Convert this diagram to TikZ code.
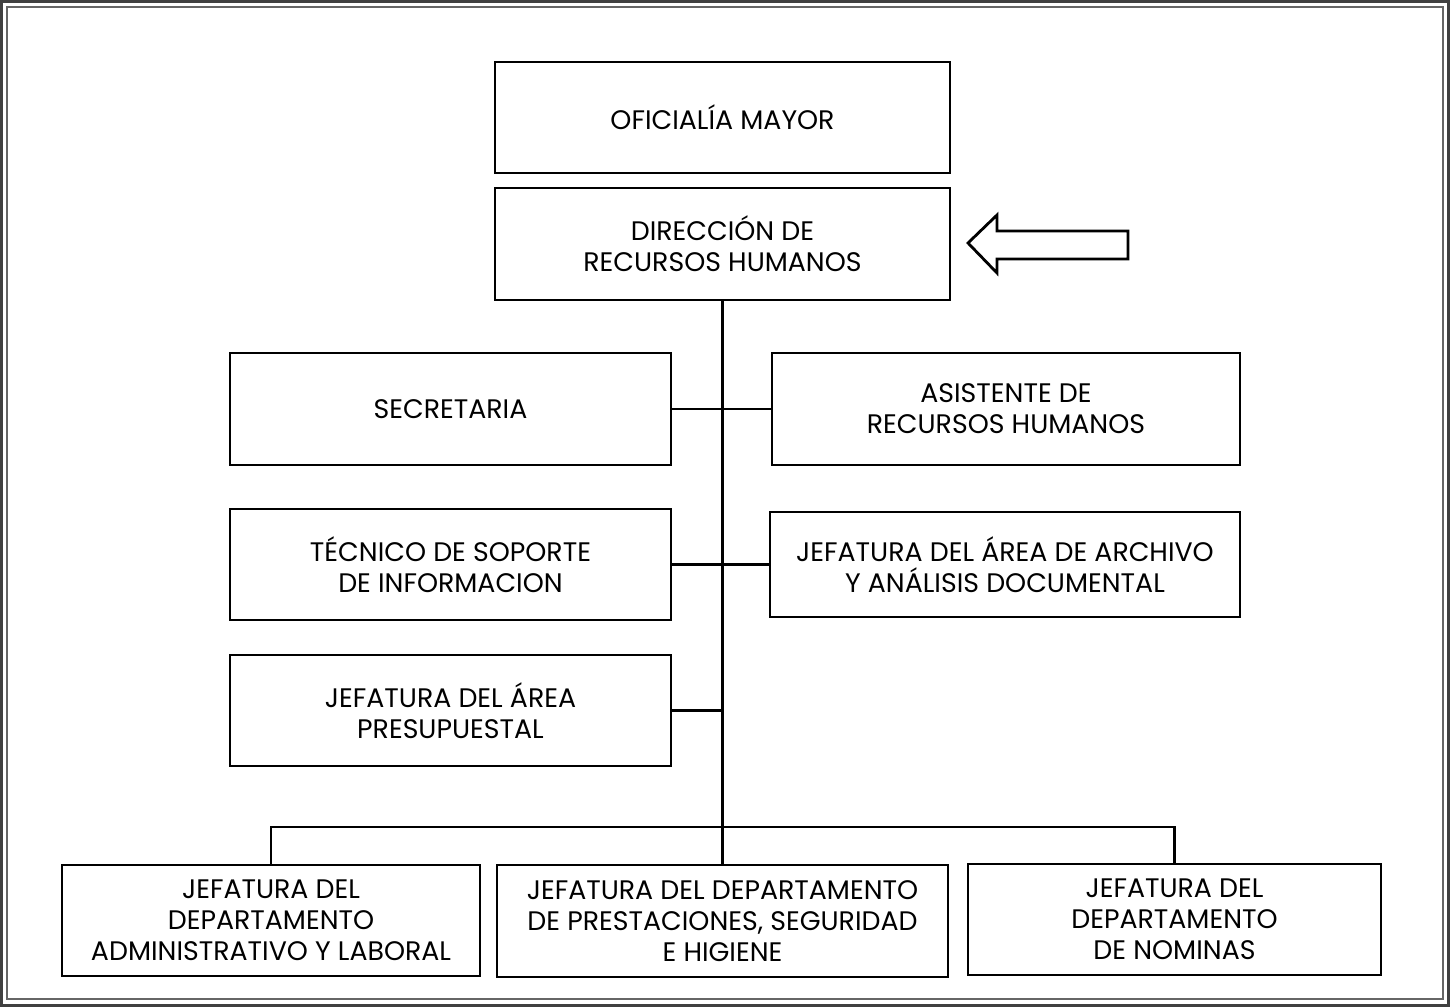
\documentclass[tikz,border=0pt]{standalone}
\usepackage{fontspec}
\setmainfont{Poppins}
\begin{document}
\begin{tikzpicture}[x=1pt,y=-1pt,
  box/.style={draw, line width=2.8pt, inner sep=0pt, align=center,
    font=\fontsize{26.8}{31}\selectfont},
  link/.style={line width=2.8pt}]
\useasboundingbox (0,0) rectangle (1450,1007);
% frame
\draw[line width=3pt, black!75] (1.5,1.5) rectangle (1448.5,1005.5);
\draw[line width=1.2pt, black!60] (7,7) rectangle (1443,999);
% nodes
\node[box, minimum width=455pt, minimum height=111pt] (om) at (722.5,117.5) {OFICIALÍA MAYOR};
\node[box, minimum width=455pt, minimum height=112pt] (drh) at (722.5,244) {DIRECCIÓN DE\\RECURSOS HUMANOS};
\node[box, minimum width=441pt, minimum height=112pt] (sec) at (450.5,409) {SECRETARIA};
\node[box, minimum width=468pt, minimum height=112pt] (asi) at (1006,409) {ASISTENTE DE\\RECURSOS HUMANOS};
\node[box, minimum width=441pt, minimum height=111pt] (tec) at (450.5,564.5) {TÉCNICO DE SOPORTE\\DE INFORMACION};
\node[box, minimum width=470pt, minimum height=105pt] (arc) at (1005,564.5) {JEFATURA DEL ÁREA DE ARCHIVO\\Y ANÁLISIS DOCUMENTAL};
\node[box, minimum width=441pt, minimum height=111pt] (pre) at (450.5,710.5) {JEFATURA DEL ÁREA\\PRESUPUESTAL};
\node[box, minimum width=418pt, minimum height=111pt] (adm) at (271,920.5) {JEFATURA DEL\\DEPARTAMENTO\\ADMINISTRATIVO Y LABORAL};
\node[box, minimum width=451pt, minimum height=112pt] (pres) at (722.5,921) {JEFATURA DEL DEPARTAMENTO\\DE PRESTACIONES, SEGURIDAD\\E HIGIENE};
\node[box, minimum width=413pt, minimum height=111pt] (nom) at (1174.5,919.5) {JEFATURA DEL\\DEPARTAMENTO\\DE NOMINAS};
\coordinate (bus) at (722.5,827);
% connectors
\draw[link] (drh.south) -- (pres.north);
\draw[link] (sec.east) -- (asi.west);
\draw[link] (tec.east) -- (arc.west);
\draw[link] (pre.east) -- (pre.east -| drh.south);
\draw[link] (adm.north) |- (bus) -| (nom.north);
% pointer arrow
\draw[line width=2.8pt, line join=miter] (968,243) -- (997,215) -- (997,231) -- (1128,231) -- (1128,259) -- (997,259) -- (997,273) -- cycle;
\end{tikzpicture}
\end{document}
